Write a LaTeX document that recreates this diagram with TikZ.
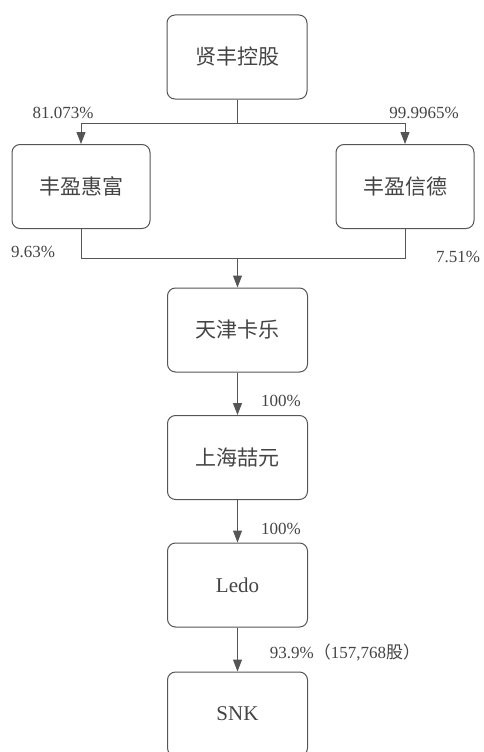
\documentclass[tikz,border=0pt]{standalone}
\usepackage{fontspec}
\setmainfont{Liberation Serif}
\newfontfamily\cjk{Noto Sans CJK SC}
\usetikzlibrary{arrows.meta}

\definecolor{linegray}{HTML}{555555}
\definecolor{textgray}{HTML}{444444}

\tikzset{
  company/.style={draw=linegray, line width=1pt, rounded corners=8pt,
    minimum width=140pt, minimum height=84pt, text=textgray,
    font=\fontsize{21}{24}\selectfont},
  share/.style={text=textgray, font=\fontsize{17}{20}\selectfont},
  link/.style={draw=linegray, line width=1pt},
  owns/.style={link, -{Triangle[length=12pt,width=9pt]}}
}

\begin{document}
\begin{tikzpicture}[x=1pt, y=-1pt]

  \useasboundingbox (0,0) rectangle (483,752);

  % --- Companies ---
  \node[company] (xianfeng) at (237,57) {\cjk 贤丰控股};
  \node[company, minimum width=138pt] (huifu) at (81,186.5) {\cjk 丰盈惠富};
  \node[company, minimum width=138pt] (xinde) at (405,186.5) {\cjk 丰盈信德};
  \node[company] (tianjin) at (237.5,330) {\cjk 天津卡乐};
  \node[company] (shanghai) at (237.5,457.5) {\cjk 上海喆元};
  \node[company] (ledo) at (237.5,585) {Ledo};
  \node[company] (snk) at (237.5,714) {SNK};

  % --- Split from the holding ---
  \coordinate (split) at (xianfeng.south |- 0,123);
  \draw[link] (xianfeng.south) -- (split);
  \draw[owns] (split) -| (huifu.north);
  \draw[owns] (split) -| (xinde.north);
  \node[share] (pcthuifu) at (63,113) {81.073\%};
  \node[share] (pctxinde) at (424,113) {99.9965\%};

  % --- Merge into Tianjin ---
  \coordinate (merge) at (tianjin.north |- 0,258);
  \draw[link] (huifu.south) |- (merge);
  \draw[link] (xinde.south) |- (merge);
  \draw[owns] (merge) -- (tianjin.north);
  \node[share] (pcta) at (33,252) {9.63\%};
  \node[share] (pctb) at (458,257) {7.51\%};

  % --- Chain down ---
  \draw[owns] (tianjin) -- (shanghai);
  \node[share] (pctc) at (281,401) {100\%};
  \draw[owns] (shanghai) -- (ledo);
  \node[share] (pctd) at (281,529) {100\%};
  \draw[owns] (ledo) -- (snk);
  \node[share] (pcte) at (345,653) {93.9\%{\cjk （}157,768{\cjk 股）}};

\end{tikzpicture}
\end{document}
